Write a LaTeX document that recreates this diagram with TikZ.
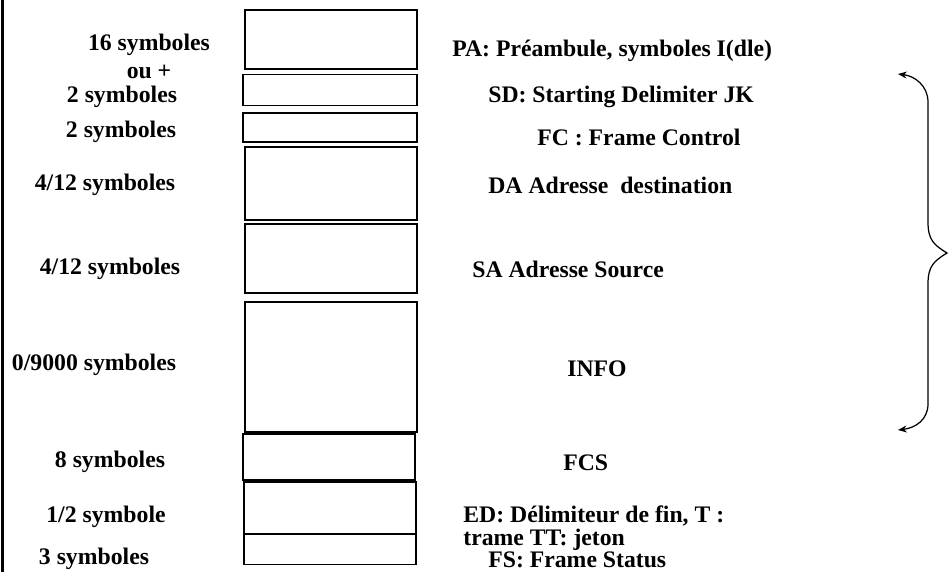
\documentclass[tikz,border=0pt]{standalone}
\usepackage{fontspec}
\setmainfont{Liberation Serif}
\usetikzlibrary{positioning,arrows.meta}

\tikzset{
  champ/.style={draw, rectangle, line width=0.8pt, minimum width=3.44cm, inner sep=0pt},
  txt/.style={font=\fontsize{13.5}{13}\selectfont\bfseries, inner sep=0pt, align=left},
}

\begin{document}
\begin{tikzpicture}[x=0.02cm, y=-0.02cm]
        \useasboundingbox (0,0) rectangle (948,572);
        % cadre a gauche
        \draw[line width=1.3pt] (2.5,0) -- (2.5,572);

        % les champs de la trame
        \node[champ, minimum height=1.18cm] (pa) at (331,39.5) {};
        \node[champ, minimum height=0.62cm, minimum width=3.48cm] (sd) at (330,90) {};
        \node[champ, minimum height=0.58cm, minimum width=3.48cm] (fc) at (330,127.5) {};
        \node[champ, minimum height=1.46cm] (da) at (331,183.5) {};
        \node[champ, minimum height=1.38cm] (sa) at (331,258.5) {};
        \node[champ, minimum height=2.60cm] (info) at (331,367) {};
        \node[champ, minimum height=0.92cm] (fcs) at (329,457) {};
        \node[champ, minimum height=1.04cm] (ed) at (330,508) {};
        \node[champ, minimum height=0.60cm] (fs) at (330,549.5) {};

        % tailles
        \node[txt, align=center] (tpa) at (149,56) {16 symboles\\[3pt] ou +};
        \node[txt] (tsd) at (122,97) {2 symboles};
        \node[txt] (tfc) at (121,132) {2 symboles};
        \node[txt] (tda) at (105,185) {4/12 symboles};
        \node[txt] (tsa) at (110,269) {4/12 symboles};
        \node[txt] (tinfo) at (94,365) {0/9000 symboles};
        \node[txt] (tfcs) at (110,462) {8 symboles};
        \node[txt] (ted) at (106,517) {1/2 symbole};
        \node[txt] (tfs) at (94,559) {3 symboles};

        % noms des champs
        \node[txt, anchor=west] (npa) at (452,51) {PA: Préambule, symboles I(dle)};
        \node[txt, anchor=west] (nsd) at (488,97) {SD: Starting Delimiter JK};
        \node[txt, anchor=west] (nfc) at (537,137) {FC : Frame Control};
        \node[txt, anchor=west] (nda) at (488,185) {DA Adresse\ \ destination};
        \node[txt, anchor=west] (nsa) at (472,269) {SA Adresse Source};
        \node[txt, anchor=west] (ninfo) at (567,369) {INFO};
        \node[txt, anchor=west] (nfcs) at (563,463) {FCS};
        \node[txt, anchor=west] (ned) at (463,528) {ED: Délimiteur de fin, T :\\trame TT: jeton};
        \node[txt, anchor=west] (nfs) at (488,560) {FS: Frame Status};

        % accolade
        \coordinate (haut) at (898,74);
        \coordinate (bas) at (898,430);
        \coordinate (pointe) at (947,253);
        \draw[line width=0.7pt, {Stealth[length=5pt,width=4pt]}-{Stealth[length=5pt,width=4pt]}]
          (haut) .. controls (915,76) and (928,86) .. (928,102) -- (928,222)
          .. controls (928,240) and (934,245) .. (pointe)
          .. controls (934,261) and (928,266) .. (928,284) -- (928,404)
          .. controls (928,420) and (915,428) .. (bas);
\end{tikzpicture}
\end{document}
